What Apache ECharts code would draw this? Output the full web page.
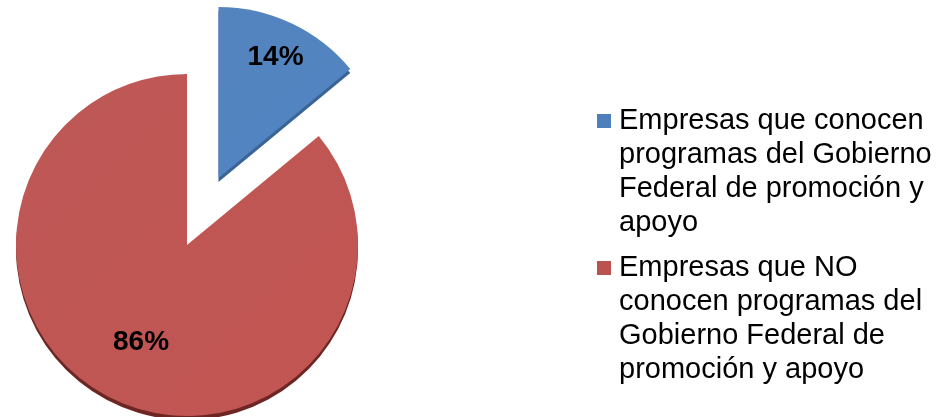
<!DOCTYPE html>
<html>
<head>
<meta charset="utf-8">
<script src="https://cdn.jsdelivr.net/npm/echarts@6/dist/echarts.min.js"></script>
<style>
  html, body { margin: 0; padding: 0; background: #fff; }
  #chart { width: 940px; height: 417px; }
</style>
</head>
<body>
<div id="chart"></div>
<script>
// Categories and shares (percent) of the pie
const categories = [
  'Empresas que conocen programas del Gobierno Federal de promoción y apoyo',
  'Empresas que NO conocen programas del Gobierno Federal de promoción y apoyo'
];
const shares = [14, 86];
// Legend text broken into lines
const legendLines = [
  ['Empresas que conocen', 'programas del Gobierno', 'Federal de promoción y', 'apoyo'],
  ['Empresas que NO', 'conocen programas del', 'Gobierno Federal de', 'promoción y apoyo']
];

const topColors = ['#4d7fbc', '#bb524f'];
const rimColors = ['#3a6396', '#6e2624'];

const FONT = '"Liberation Sans", Arial, sans-serif';
const CENTER = [187, 245];
const R = 171;
const OFFSET = 74;

function faceGradient(c) {
  return new echarts.graphic.LinearGradient(0, 0, 1, 1, [
    { offset: 0, color: echarts.color.lift(c, 0.04) },
    { offset: 1, color: echarts.color.lift(c, -0.04) }
  ]);
}

function pieData(styleFn, labelIdx) {
  return categories.map((name, i) => ({
    name: name,
    value: shares[i],
    selected: i === 0,
    itemStyle: styleFn(i),
    label: { show: labelIdx === i }
  }));
}

const basePie = {
  type: 'pie',
  startAngle: 90,
  clockwise: true,
  selectedMode: 'single',
  selectedOffset: OFFSET,
  silent: true,
  animation: false,
  avoidLabelOverlap: false,
  emphasis: { disabled: true },
  labelLine: { show: false }
};

const labelStyle = {
  position: 'inside',
  formatter: p => p.value + '%',
  color: '#000',
  fontFamily: FONT,
  fontWeight: 'bold',
  fontSize: 28
};

const rich = {
  sq0: { width: 14, height: 14, backgroundColor: topColors[0] },
  sq1: { width: 14, height: 14, backgroundColor: topColors[1] },
  sp: { width: 14, height: 14 },
  t: { fontFamily: FONT, fontSize: 29, color: '#000', lineHeight: 34, padding: [0, 0, 0, 8] }
};

const option = {
  backgroundColor: '#fff',
  legend: {
    orient: 'vertical',
    left: 592,
    top: 104,
    padding: 0,
    itemGap: 11,
    itemWidth: 0,
    itemHeight: 14,
    selectedMode: false,
    data: categories,
    formatter: name => {
      const i = categories.indexOf(name);
      return legendLines[i]
        .map((line, k) => (k === 0 ? '{sq' + i + '|}' : '{sp|}') + '{t|' + line + '}')
        .join('\n');
    },
    textStyle: { rich: rich, lineHeight: 34 }
  },
  series: [
    // darker rim giving the pie its thickness
    Object.assign({}, basePie, {
      center: [CENTER[0], CENTER[1] + 4],
      radius: [0, R],
      label: { show: false },
      data: pieData(i => ({ color: rimColors[i] }), -1)
    }),
    // top face of the pie
    Object.assign({}, basePie, {
      center: CENTER,
      radius: [0, R],
      label: { show: false },
      data: pieData(i => ({ color: faceGradient(topColors[i]) }), -1)
    }),
    // percentage label of the first slice
    Object.assign({}, basePie, {
      center: CENTER,
      radius: [0, 262],
      label: labelStyle,
      data: pieData(() => ({ color: 'rgba(0,0,0,0)' }), 0)
    }),
    // percentage label of the second slice
    Object.assign({}, basePie, {
      center: CENTER,
      radius: [0, 210],
      label: labelStyle,
      data: pieData(() => ({ color: 'rgba(0,0,0,0)' }), 1)
    })
  ]
};

const chart = echarts.init(document.getElementById('chart'), null, { renderer: 'canvas' });
chart.setOption(option);
</script>
</body>
</html>
